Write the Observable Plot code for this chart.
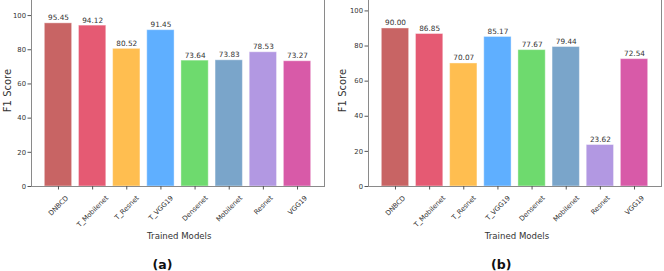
<!DOCTYPE html>
<html>
<head>
<meta charset="utf-8">
<script src="https://cdn.jsdelivr.net/npm/d3@7"></script>
<script src="https://cdn.jsdelivr.net/npm/@observablehq/plot@0.6"></script>
<style>
  html, body { margin: 0; padding: 0; background: #fff; }
  #wrap { position: relative; width: 664px; height: 271px; overflow: hidden; background: #fff; }
  #wrap > div { position: absolute; top: -5px; }
  #pa { left: 0px; }
  #pb { left: 332px; }
</style>
</head>
<body>
<div id="wrap"><div id="pa"></div><div id="pb"></div></div>
<script>
const models = ["DNBCD", "T_Mobilenet", "T_Resnet", "T_VGG19", "Densenet", "Mobilenet", "Resnet", "VGG19"];
const f1A = [95.45, 94.12, 80.52, 91.45, 73.64, 73.83, 78.53, 73.27];
const f1B = [90.00, 86.85, 70.07, 85.17, 77.67, 79.44, 23.62, 72.54];
const barColors = ["#c86464", "#e55a73", "#ffbe50", "#5fafff", "#6eda6e", "#7aa5ca", "#b298e2", "#d85aa8"];
const yTicks = [0, 20, 40, 60, 80, 100];
const yLabel = "F1 Score";
const xLabel = "Trained Models";

const FONT = "DejaVu Sans";
const tickFs = 6.8;
const ctx = document.createElement("canvas").getContext("2d");
ctx.font = `${tickFs}px "${FONT}"`;
function labelOffset(s) {
  const L = ctx.measureText(s).width;
  const h = 0.7071 * (L + tickFs);
  return 8 + h / 2;
}

function chart(values, opts) {
  const data = models.map((m, i) => ({model: m, value: values[i]}));
  const rotated = models.map(m =>
    Plot.text([m], {
      x: d => d, text: d => d, frameAnchor: "bottom", rotate: -45,
      textAnchor: "middle", lineAnchor: "middle", dy: labelOffset(m),
      fontSize: tickFs, fill: "#333", fontFamily: FONT
    })
  );
  return Plot.plot({
    width: 332, height: 276,
    marginLeft: opts.ml, marginRight: opts.mr, marginTop: 4, marginBottom: 85,
    style: {fontFamily: FONT, background: "transparent"},
    x: {type: "band", domain: models, paddingInner: 0.2, paddingOuter: 0.39, round: false, label: null},
    y: {domain: [0, opts.ymax], label: null},
    color: {domain: models, range: barColors},
    marks: [
      Plot.barY(data, {x: "model", y: "value", fill: "model", stroke: "white", strokeOpacity: 0.4, strokeWidth: 1}),
      Plot.text(data, {x: "model", y: "value", text: d => d.value.toFixed(2), dy: -3, lineAnchor: "bottom", fontSize: 7.3, fill: "#333", fontFamily: FONT}),
      Plot.frame({stroke: "#8a8a8a", strokeWidth: 1}),
      Plot.axisY({ticks: yTicks, tickSize: 3.5, tickPadding: 2, fontSize: tickFs, stroke: "#555", fill: "#333", label: null}),
      Plot.axisX({tickSize: 3.5, tickFormat: () => "", stroke: "#555", label: null}),
      ...rotated,
      Plot.text([yLabel], {text: d => d, frameAnchor: "left", rotate: -90, lineAnchor: "middle", textAnchor: "middle", dx: opts.ylx, dy: -2.5, fontSize: 10, fill: "#333", fontFamily: FONT}),
      Plot.text([xLabel], {text: d => d, frameAnchor: "bottom", lineAnchor: "bottom", textAnchor: "middle", dx: opts.xlx, dy: 52, fontSize: 8.6, fill: "#333", fontFamily: FONT}),
      Plot.text([opts.tag], {text: d => d, frameAnchor: "bottom", lineAnchor: "bottom", textAnchor: "middle", dx: opts.tagx, dy: 82.5, fontSize: 12.5, fontWeight: "bold", fill: "#111", fontFamily: FONT})
    ]
  });
}

document.getElementById("pa").append(chart(f1A, {ml: 31, mr: 8, ymax: 109.4, ylx: -24, xlx: 1.3, tag: "(a)", tagx: -15.5}));
document.getElementById("pb").append(chart(f1B, {ml: 36, mr: 3, ymax: 106.5, ylx: -25.5, xlx: 2, tag: "(b)", tagx: -13.7}));
</script>
</body>
</html>
